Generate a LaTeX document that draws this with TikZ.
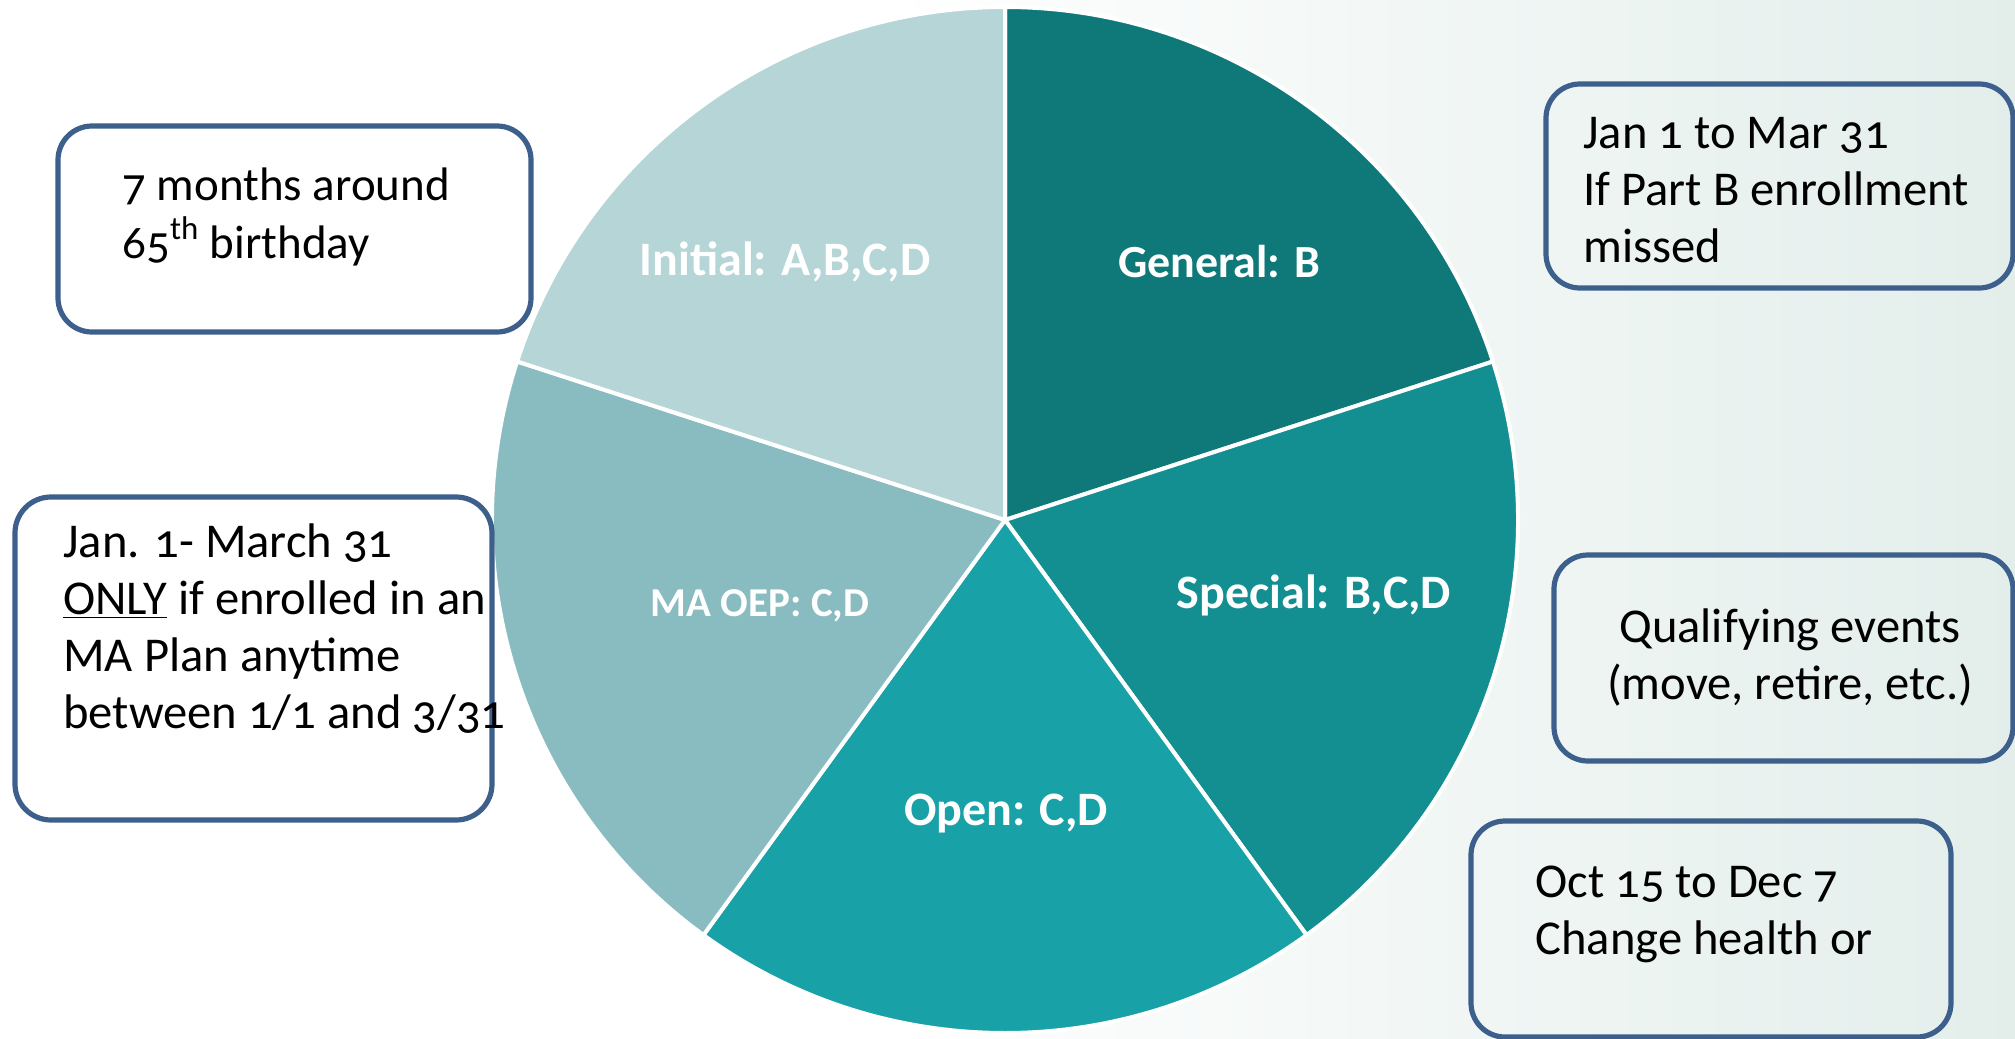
\documentclass[tikz,border=0pt]{standalone}
\usepackage{fontspec}
\setmainfont{Carlito}[Numbers=OldStyle]
\usetikzlibrary{calc}

\definecolor{bgend}{RGB}{227,238,235}
\definecolor{initc}{RGB}{181,213,215}
\definecolor{maoepc}{RGB}{136,188,192}
\definecolor{openc}{RGB}{24,162,167}
\definecolor{specialc}{RGB}{19,143,146}
\definecolor{generalc}{RGB}{15,121,122}
\definecolor{frame}{RGB}{60,95,140}

\begin{document}
\begin{tikzpicture}[x=0.5pt,y=-0.5pt,
  slice/.style={draw=white, line width=2pt, line join=round},
  infobox/.style={draw=frame, line width=2.6pt, rounded corners=17pt, inner sep=0pt},
  boxtext/.style={anchor=base west, align=left, inner sep=0pt,
    font=\fontsize{24.3}{28.5}\selectfont, text=black},
  slicelabel/.style={text=white, inner sep=0pt, anchor=base,
    font=\fontsize{24}{28}\selectfont\bfseries}]

% page background: white fading into a pale teal on the right
\fill[white] (0,0) rectangle (2015,1039);
\shade[left color=white, right color=bgend] (880,0) rectangle (2015,1039);
\useasboundingbox (0,0) rectangle (2015,1039);

% pie of the five enrolment periods
\coordinate (c) at (1005,520);
\def\R{256.5pt}
\filldraw[slice, fill=generalc] (c) -- ++(18:\R) arc[start angle=18, end angle=90, radius=\R] -- cycle;
\filldraw[slice, fill=specialc] (c) -- ++(-54:\R) arc[start angle=-54, end angle=18, radius=\R] -- cycle;
\filldraw[slice, fill=openc] (c) -- ++(-126:\R) arc[start angle=-126, end angle=-54, radius=\R] -- cycle;
\filldraw[slice, fill=maoepc] (c) -- ++(162:\R) arc[start angle=162, end angle=234, radius=\R] -- cycle;
\filldraw[slice, fill=initc] (c) -- ++(90:\R) arc[start angle=90, end angle=162, radius=\R] -- cycle;

% slice labels
\node[slicelabel] (linit) at (785,275) {Initial: A,B,C,D};
\node[slicelabel, font=\fontsize{23}{27}\selectfont\bfseries] (lgen) at (1219,277) {General: B};
\node[slicelabel, font=\fontsize{20.5}{24}\selectfont\bfseries] (lma) at (760,616) {MA OEP: C,D};
\node[slicelabel] (lopen) at (1006,825) {Open: C,D};
\node[slicelabel] (lspec) at (1314,608) {Special: B,C,D};

% explanation boxes
\node[infobox, fill=white, minimum width=236.5pt, minimum height=103pt] (b1) at (294.5,229) {};
\node[infobox, fill=white, rounded corners=18pt, minimum width=238.5pt, minimum height=161.5pt] (b2) at (253.5,658.5) {};
\node[infobox, minimum width=233.5pt, minimum height=102pt] (b3) at (1779.5,186) {};
\node[infobox, minimum width=229.5pt, minimum height=103pt] (b4) at (1783.5,658) {};
\node[infobox, minimum width=240pt, minimum height=108pt] (b5) at (1711,929) {};

% box texts (a node's base is the baseline of its last line)
\node[boxtext, font=\fontsize{23.5}{29}\selectfont] (t1) at (122,258)
  {7 months around\\65\textsuperscript{th} birthday};
\node[boxtext] (t2) at (63,728)
  {Jan. 1- March 31\\\underline{ONLY} if enrolled in an\\MA Plan anytime\\between 1/1 and 3/31};
\node[boxtext] (t3) at (1583,262)
  {Jan 1 to Mar 31\\If Part B enrollment\\missed};
\node[boxtext, anchor=base, align=center] (t4) at (1790,699)
  {Qualifying events\\(move, retire, etc.)};
\node[boxtext] (t5) at (1535,954)
  {Oct 15 to Dec 7\\Change health or};
\end{tikzpicture}
\end{document}
